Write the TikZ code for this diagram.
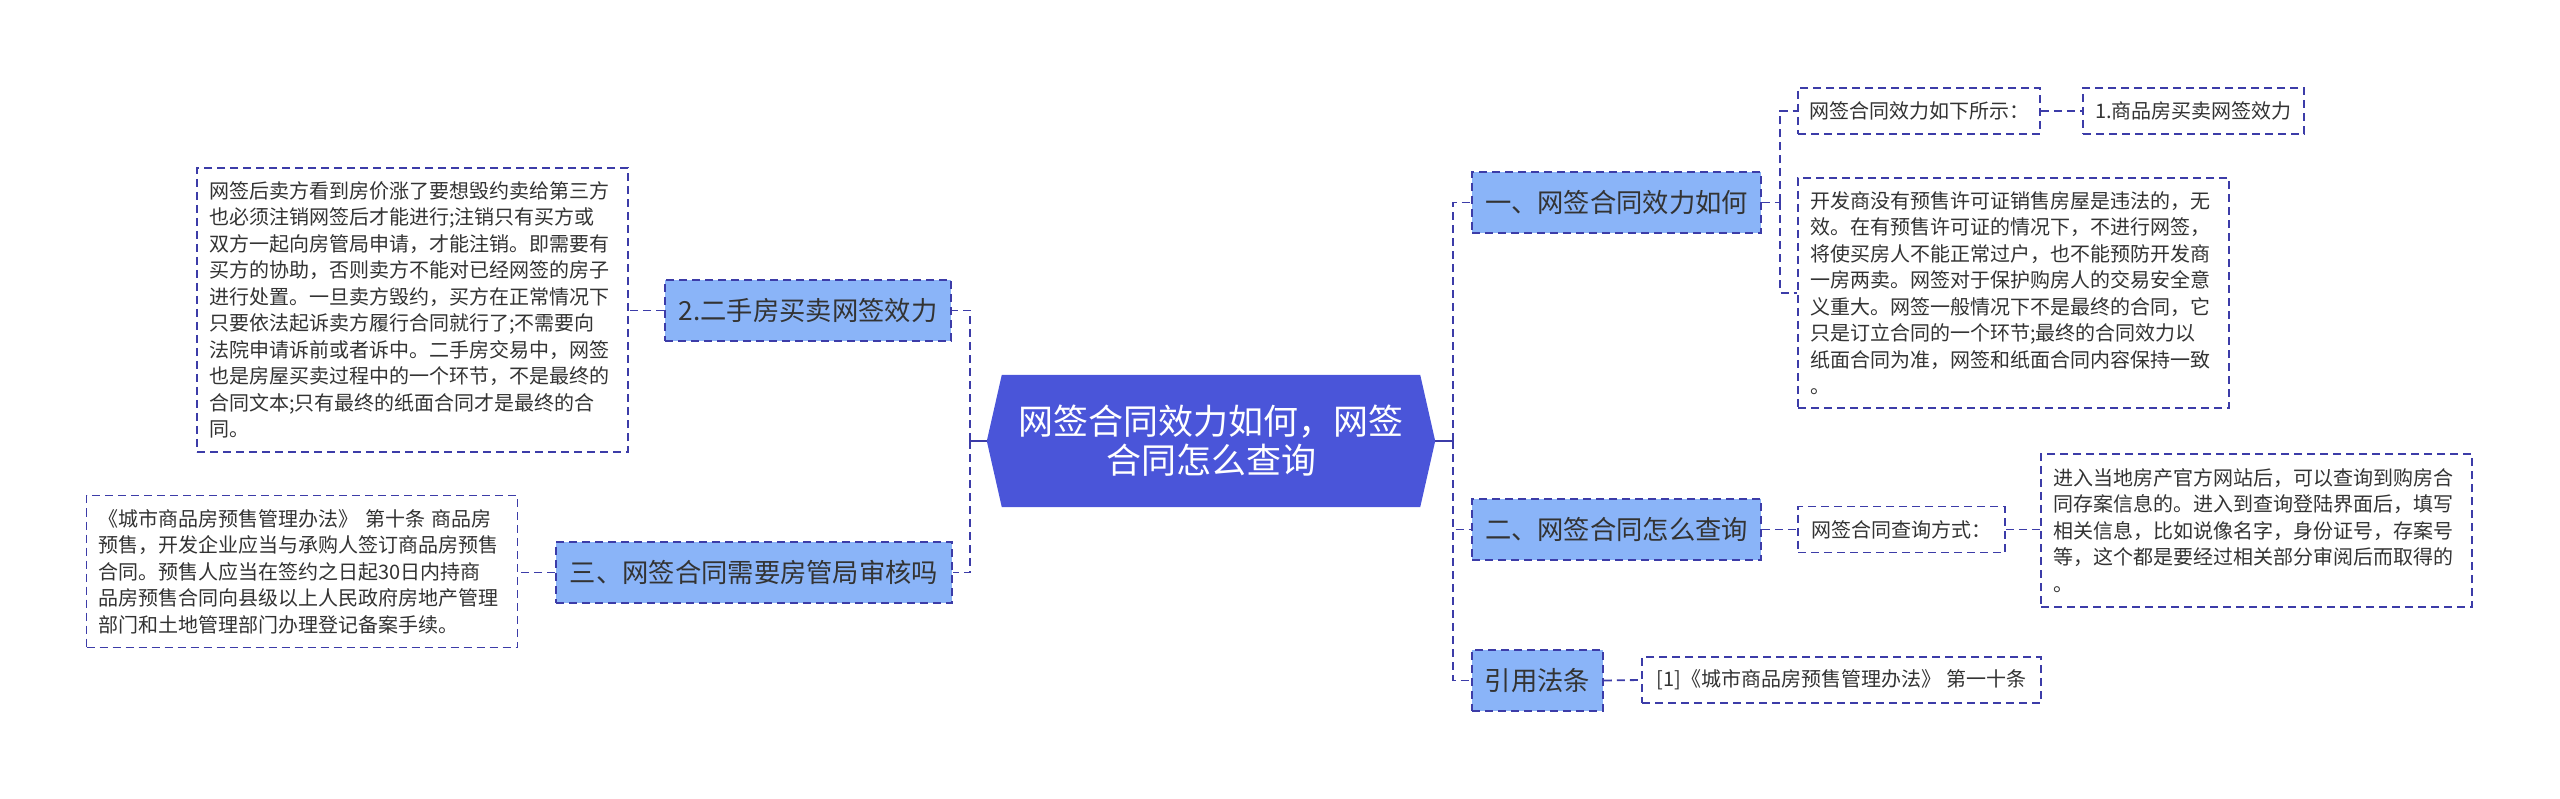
\documentclass[tikz,border=0pt]{standalone}
\usepackage{fontspec}
\setmainfont{Noto Sans CJK SC}
\usetikzlibrary{backgrounds}
\definecolor{hexblue}{HTML}{4A55D9}
\definecolor{lblue}{HTML}{8AB4F8}
\definecolor{lineblue}{HTML}{3C3CA8}
\definecolor{txt}{HTML}{333333}
\begin{document}
\begin{tikzpicture}[x=1pt,y=-1pt,
  conn/.style={draw=lineblue, line width=1.8pt, dash pattern=on 8pt off 5pt},
  solidconn/.style={draw=lineblue, line width=1.8pt},
  topic/.style={draw=lineblue, fill=lblue, line width=1.8pt, dash pattern=on 8pt off 5pt,
    text=txt, font=\fontsize{26.3}{30}\selectfont, minimum height=61pt, inner sep=0pt},
  leaf/.style={draw=lineblue, fill=white, line width=1.6pt, dash pattern=on 8pt off 5pt,
    text=txt, font=\fontsize{20}{26.5}\selectfont, minimum height=46pt, inner sep=0pt},
  para/.style={leaf, text width=407pt, inner xsep=12pt, inner ysep=0pt, align=left},
  centre/.style={text=white, font=\fontsize{35}{39}\selectfont, align=center,
    minimum width=448pt, minimum height=132pt, inner sep=0pt}
]
\useasboundingbox (0,0) rectangle (2560,799);

% central node
\node[centre] (c) at (1211,441) {网签合同效力如何，网签\\合同怎么查询};
\begin{scope}[on background layer]
\fill[hexblue] (c.west) -- ([xshift=15pt]c.north west) -- ([xshift=-15pt]c.north east)
  -- (c.east) -- ([xshift=-15pt]c.south east) -- ([xshift=15pt]c.south west) -- cycle;
\end{scope}

% left topics
\node[topic, minimum width=286pt] (L2) at (808,310.5) {2.二手房买卖网签效力};
\node[topic, minimum width=396pt] (L3) at (754,572.5) {三、网签合同需要房管局审核吗};

\node[para, minimum height=284pt] (A) at (412.5,310) {网签后卖方看到房价涨了要想毁约卖给第三方\\
也必须注销网签后才能进行;注销只有买方或\\
双方一起向房管局申请，才能注销。即需要有\\
买方的协助，否则卖方不能对已经网签的房子\\
进行处置。一旦卖方毁约，买方在正常情况下\\
只要依法起诉卖方履行合同就行了;不需要向\\
法院申请诉前或者诉中。二手房交易中，网签\\
也是房屋买卖过程中的一个环节，不是最终的\\
合同文本;只有最终的纸面合同才是最终的合\\
同。};

\node[para, minimum height=152pt] (B) at (302,571.5) {《城市商品房预售管理办法》 第十条 商品房\\
预售，开发企业应当与承购人签订商品房预售\\
合同。预售人应当在签约之日起30日内持商\\
品房预售合同向县级以上人民政府房地产管理\\
部门和土地管理部门办理登记备案手续。};

% right topics
\node[topic, minimum width=289pt] (R1) at (1616.5,202.5) {一、网签合同效力如何};
\node[topic, minimum width=289pt] (R2) at (1616.5,529.5) {二、网签合同怎么查询};
\node[topic, minimum width=131pt] (R3) at (1537.5,680.5) {引用法条};

\node[leaf, minimum width=242pt] (S1) at (1919,111) {网签合同效力如下所示：};
\node[leaf, minimum width=221pt] (S2) at (2193.5,111) {1.商品房买卖网签效力};
\node[para, minimum height=230pt] (C) at (2013.5,293) {开发商没有预售许可证销售房屋是违法的，无\\
效。在有预售许可证的情况下，不进行网签，\\
将使买房人不能正常过户，也不能预防开发商\\
一房两卖。网签对于保护购房人的交易安全意\\
义重大。网签一般情况下不是最终的合同，它\\
只是订立合同的一个环节;最终的合同效力以\\
纸面合同为准，网签和纸面合同内容保持一致\\
。};

\node[leaf, minimum width=207pt] (S3) at (1901.5,529.5) {网签合同查询方式：};
\node[para, minimum height=153pt] (D) at (2256.5,530.5) {进入当地房产官方网站后，可以查询到购房合\\
同存案信息的。进入到查询登陆界面后，填写\\
相关信息，比如说像名字，身份证号，存案号\\
等，这个都是要经过相关部分审阅后而取得的\\
。};

\node[leaf, minimum width=399pt] (E) at (1841.5,680) {[1]《城市商品房预售管理办法》 第一十条};

% junction coordinates
\coordinate (cW) at (970,441);
\coordinate (cE) at (1453,441);
\coordinate (r1) at (1780,202.5);

% connectors
\draw[solidconn] (c.west) -- (cW);
\draw[solidconn] (c.east) -- (cE);
\draw[conn] (cW) |- (L2.east);
\draw[conn] (cW) |- (L3.east);
\draw[conn] (L2.west) -- (L2.west -| A.east);
\draw[conn] (L3.west) -- (L3.west -| B.east);
\draw[conn] (cE) |- (R1.west);
\draw[conn] (cE) |- (R2.west);
\draw[conn] (cE) |- (R3.west);
\draw[conn] (R1.east) -- (r1);
\draw[conn] (r1) |- (S1.west);
\draw[conn] (r1) |- (C.west);
\draw[conn] (S1.east) -- (S2.west);
\draw[conn] (R2.east) -- (S3.west);
\draw[conn] (S3.east) -- (S3.east -| D.west);
\draw[conn] (R3.east) -- (E.west);
\end{tikzpicture}
\end{document}
